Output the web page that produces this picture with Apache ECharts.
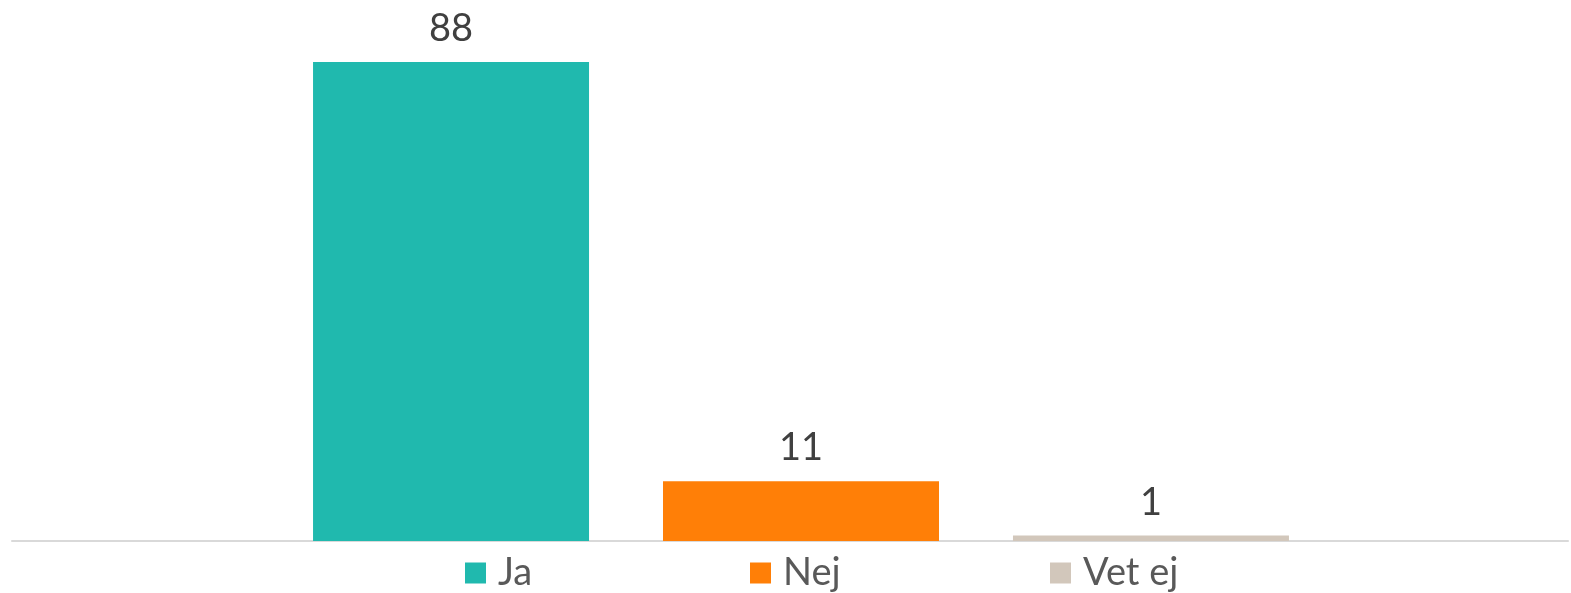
<!DOCTYPE html>
<html>
<head>
<meta charset="utf-8">
<script src="https://cdn.jsdelivr.net/npm/echarts@6/dist/echarts.min.js"></script>
<style>
  html, body { margin: 0; padding: 0; background: #fff; }
  #chart { width: 1571px; height: 593px; }
</style>
</head>
<body>
<div id="chart"></div>
<script>
const categories = ['Svar']
const seriesNames = ['Ja', 'Nej', 'Vet ej']
const seriesValues = [88, 11, 1]
const colors = ['#20B9AE', '#FF7F07', '#D2C7BB']

const font = 'Lato'

const chart = echarts.init(document.getElementById('chart'))

const series = seriesNames.map((name, i) => ({
    name: name,
    type: 'bar',
    xAxisIndex: 0,
    yAxisIndex: 0,
    data: [seriesValues[i]],
    barWidth: 276,
    barGap: '26.8%',
    itemStyle: { color: colors[i] },
    label: {
        show: true,
        position: 'top',
        distance: 14,
        color: '#404040',
        fontFamily: font,
        fontSize: 38
    }
}))

// one legend per series so each item sits under its bar like the original
const legendLeft = [465, 750, 1050]
const legends = seriesNames.map((name, i) => ({
    data: [name],
    left: legendLeft[i],
    top: 553,
    padding: 0,
    itemWidth: 21,
    itemHeight: 21,
    itemGap: 10,
    icon: 'rect',
    textStyle: {
        color: '#595959',
        fontFamily: font,
        fontSize: 38,
        lineHeight: 40,
        padding: [0, 0, 0, 7]
    }
}))

chart.setOption({
    animation: false,
    backgroundColor: '#fff',
    legend: legends,
    grid: [
        { left: 31, right: 0, top: 0, bottom: 52 },
        { left: 12, right: 3, top: 0, bottom: 52 }
    ],
    xAxis: [
        {
            type: 'category',
            gridIndex: 0,
            data: categories,
            axisLine: { show: false },
            axisTick: { show: false },
            axisLabel: { show: false }
        },
        {
            type: 'category',
            gridIndex: 1,
            data: categories,
            axisLine: { show: true, lineStyle: { color: '#D9D9D9', width: 2 } },
            axisTick: { show: false },
            axisLabel: { show: false }
        }
    ],
    yAxis: [
        { type: 'value', gridIndex: 0, min: 0, max: 99.4, show: false },
        { type: 'value', gridIndex: 1, min: 0, max: 99.4, show: false }
    ],
    series: series
})
</script>
</body>
</html>
